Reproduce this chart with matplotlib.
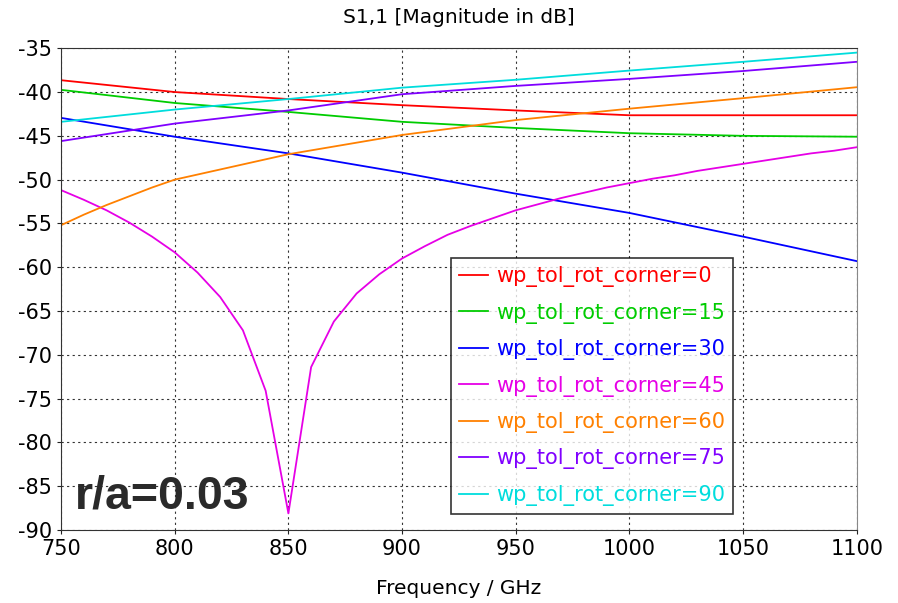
import matplotlib
matplotlib.use("Agg")
import matplotlib.pyplot as plt
import numpy as np

plt.rcParams['font.family'] = ['DejaVu Sans']
plt.rcParams['axes.unicode_minus'] = False

freq_coarse = [750, 800, 850, 900, 950, 1000, 1050, 1100]
s_0 = [-38.65, -40.0, -40.8, -41.5, -42.1, -42.65, -42.65, -42.65]
s_15 = [-39.75, -41.25, -42.27, -43.4, -44.1, -44.7, -45.0, -45.1]
s_30 = [-42.95, -45.1, -47.0, -49.2, -51.6, -53.8, -56.5, -59.3]
s_75 = [-45.6, -43.6, -42.1, -40.25, -39.3, -38.5, -37.6, -36.55]
s_90 = [-43.4, -42.0, -40.8, -39.5, -38.6, -37.55, -36.55, -35.5]

freq_60 = [750, 760, 770, 780, 790, 800, 850, 900, 950, 1000, 1050, 1100]
s_60 = [-55.2, -54.0, -52.9, -51.9, -50.9, -50.0, -47.1, -44.9, -43.2, -41.9, -40.7, -39.45]

freq_45 = [750, 760, 770, 780, 790, 800, 810, 820, 830, 840, 850, 860, 870, 880, 890,
           900, 910, 920, 930, 940, 950, 960, 970, 980, 990, 1000, 1010, 1020, 1030,
           1040, 1050, 1060, 1070, 1080, 1090, 1100]
s_45 = [-51.2, -52.3, -53.5, -54.9, -56.5, -58.3, -60.6, -63.4, -67.2, -74.1, -88.1,
        -71.4, -66.2, -63.0, -60.8, -59.0, -57.6, -56.3, -55.3, -54.4, -53.5, -52.8,
        -52.1, -51.5, -50.9, -50.4, -49.9, -49.5, -49.0, -48.6, -48.2, -47.8, -47.4,
        -47.0, -46.7, -46.3]

labels = ['wp_tol_rot_corner=0', 'wp_tol_rot_corner=15', 'wp_tol_rot_corner=30',
          'wp_tol_rot_corner=45', 'wp_tol_rot_corner=60', 'wp_tol_rot_corner=75',
          'wp_tol_rot_corner=90']
colors = ['#ff0000', '#00cc00', '#0000ff', '#e600e6', '#ff8000', '#8000ff', '#00dddd']

series = [(freq_coarse, s_0), (freq_coarse, s_15), (freq_coarse, s_30),
          (freq_45, s_45), (freq_60, s_60), (freq_coarse, s_75), (freq_coarse, s_90)]

fig = plt.figure(figsize=(8.98, 6.03), dpi=100)
ax = fig.add_axes([0.068, 0.121, 0.886, 0.799])

for (x, y), lab, c in zip(series, labels, colors):
    ax.plot(x, y, color=c, lw=1.3, label=lab)

ax.set_xlim(750, 1100)
ax.set_ylim(-90, -35)
ax.set_xticks(np.arange(750, 1101, 50))
ax.set_yticks(np.arange(-90, -34, 5))
ax.grid(True, color='#333333', linestyle=(0, (2, 3)), linewidth=0.8)
ax.tick_params(labelsize=15, length=3, direction='out', colors='#222222')
for t in ax.get_xticklabels() + ax.get_yticklabels():
    t.set_color('black')
for s in ['left', 'bottom', 'top']:
    ax.spines[s].set_color('#333333')
ax.spines['right'].set_color('#888888')
ax.spines['right'].set_linewidth(0.8)

ax.set_title('S1,1 [Magnitude in dB]', fontsize=14.5, pad=18)
ax.set_xlabel('Frequency / GHz', fontsize=14.5, labelpad=14)

leg = ax.legend(loc='lower left', bbox_to_anchor=(0.49, 0.033), fontsize=15,
                frameon=True, fancybox=False, edgecolor='black', handlelength=1.4,
                handletextpad=0.35, labelspacing=0.74, borderpad=0.4, borderaxespad=0)
leg.get_frame().set_linewidth(1.2)
for txt, c in zip(leg.get_texts(), colors):
    txt.set_color(c)

ax.text(756, -86.2, 'r/a=0.03', fontsize=33.5, fontweight='bold', color='#2a2a2a',
        va='center', ha='left', family=['Liberation Sans', 'DejaVu Sans'])

fig.savefig('out.png', dpi=100)
